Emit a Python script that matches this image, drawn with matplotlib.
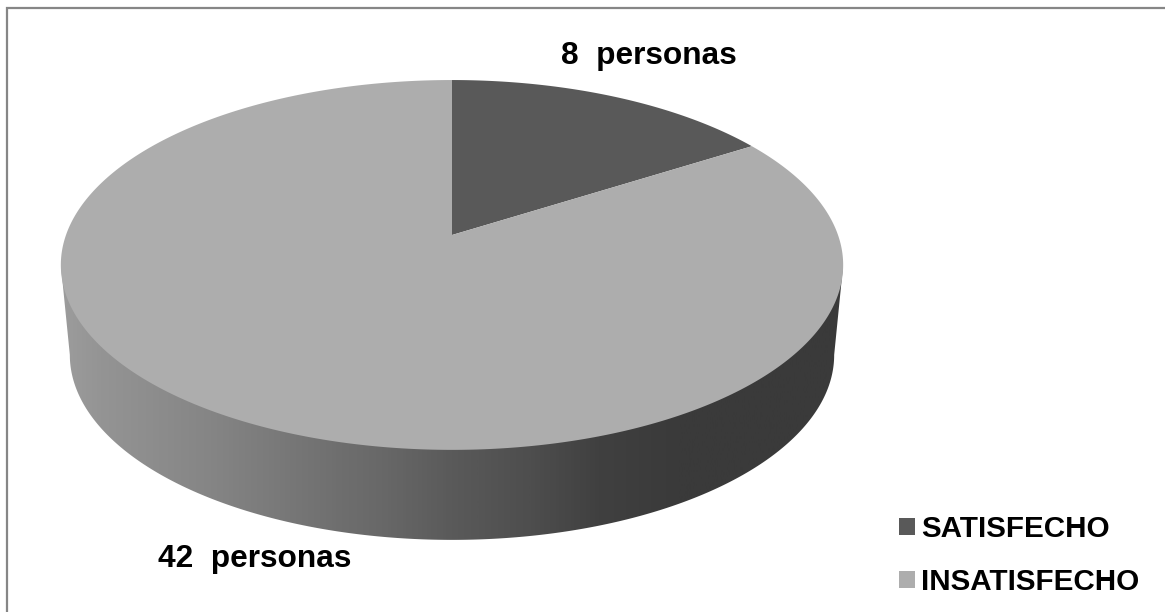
import numpy as np
import matplotlib
matplotlib.use("Agg")
import matplotlib.pyplot as plt
from matplotlib.patches import Patch, Polygon
from matplotlib.colors import LinearSegmentedColormap

categories = ["SATISFECHO", "INSATISFECHO"]
values = [8, 42]
labels = ["8  personas", "42  personas"]

colors = ["#595959", "#adadad"]
CX, R, C, A, B = 452.0, 386.0, 0.162, -142.0, 235.0
DEPTH, SHRINK = 90.0, 0.977


def project(theta):
    """Clockwise angle from the back of the disc to screen pixels."""
    u, v = np.sin(theta), np.cos(theta)
    d = 1 + C * v
    return CX + R * u / d, (A * v + B) / d


plt.rcParams["font.family"] = ["Liberation Sans", "DejaVu Sans"]
fig = plt.figure(figsize=(11.65, 6.12), dpi=100, facecolor="white")
ax = fig.add_axes([0, 0, 1, 1])
ax.set_xlim(0, 1165)
ax.set_ylim(612, 0)
ax.axis("off")

# side wall, between the silhouette extremes of the disc
t = np.linspace(np.radians(99.3), np.radians(260.7), 400)
x, y = project(t)
bx = CX + (x - CX) * SHRINK
by = y + DEPTH
wall = np.r_[np.c_[[x[0]], [y[0]]], np.c_[bx, by], np.c_[[x[-1]], [y[-1]]]]
wall_cmap = LinearSegmentedColormap.from_list(
    "wall",
    [(0.0, "#9c9c9c"), (0.05, "#949494"), (0.19, "#858585"), (0.36, "#6e6e6e"),
     (0.41, "#686868"), (0.5, "#5a5a5a"), (0.6, "#4e4e4e"), (0.69, "#404040"),
     (0.79, "#3a3a3a"), (1.0, "#3a3a3a")],
)
im = ax.imshow(np.linspace(0, 1, 512)[None, :], cmap=wall_cmap, vmin=0, vmax=1,
               extent=(61, 843, 612, 0), aspect="auto", zorder=1)
clip = Polygon(wall, closed=True, transform=ax.transData, fc="none", ec="none")
ax.add_patch(clip)
im.set_clip_path(clip)
ax.set_xlim(0, 1165)
ax.set_ylim(612, 0)

# top surface, angles from the values
fractions = np.array(values) / np.sum(values)
edges = np.r_[0, np.cumsum(fractions)] * 2 * np.pi
for i, col in enumerate(colors):
    th = np.linspace(edges[i], edges[i + 1], 500)
    px, py = project(th)
    ax.fill(np.r_[CX, px], np.r_[B, py], color=col, lw=0, zorder=2)

# data labels
ax.text(561, 64, labels[0], ha="left", va="baseline", fontsize=22.8, fontweight="bold", color="black", zorder=3)
ax.text(158, 567, labels[1], ha="left", va="baseline", fontsize=22.8, fontweight="bold", color="black", zorder=3)

# legend
handles = [Patch(facecolor=c, edgecolor="none", label=n) for c, n in zip(colors, categories)]
ax.legend(handles=handles, loc="lower left", bbox_to_anchor=(899 / 1165, 1 - 596 / 612),
          bbox_transform=ax.transAxes, frameon=False, handlelength=0.54, handleheight=0.54,
          handletextpad=0.22, labelspacing=0.85, borderpad=0, borderaxespad=0,
          prop={"size": 21.3, "weight": "bold"})

# frame
ax.plot([7, 7, 1165], [612, 7.5, 7.5], color="#868686", lw=1.6, zorder=4, solid_joinstyle="miter")

fig.savefig("out.png", dpi=100, facecolor="white")
